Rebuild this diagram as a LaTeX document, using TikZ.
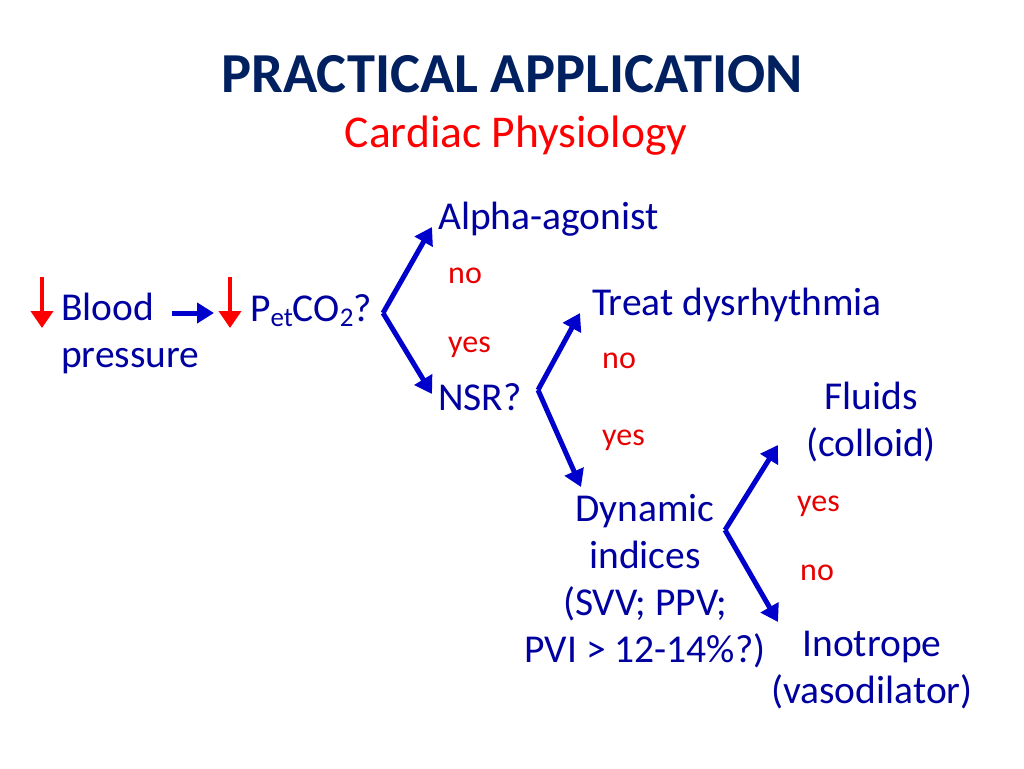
\documentclass[tikz,border=0pt]{standalone}
\usepackage{fontspec}
\setmainfont{Carlito}
\usetikzlibrary{arrows.meta}
\definecolor{navy}{RGB}{0,32,96}
\definecolor{txtblue}{RGB}{0,0,160}
\definecolor{arrblue}{RGB}{0,0,204}
\definecolor{txtred}{RGB}{230,0,0}
\newcommand{\lowsub}[1]{\raisebox{-0.3ex}{\fontsize{27}{27}\selectfont #1}}
\tikzset{
  body/.style={inner sep=0pt, text=txtblue, font=\fontsize{39.5}{47}\selectfont},
  answer/.style={inner sep=0pt, anchor=base west, text=txtred, font=\fontsize{32}{38}\selectfont},
  flow/.style={draw=arrblue, line width=5pt, -{Triangle[length=17pt,width=20pt]}},
  drop/.style={draw=red, line width=4pt, -{Triangle[length=17pt,width=22pt]}}
}
\begin{document}
\begin{tikzpicture}[x=1pt,y=-1pt]
\useasboundingbox (0,0) rectangle (1024,768);
% title
\node (title) at (512,92) [anchor=base, inner sep=0pt, text=navy, font=\fontsize{56.5}{68}\selectfont\bfseries] {PRACTICAL APPLICATION};
\node (sub) at (516,147) [anchor=base, inner sep=0pt, text=red, font=\fontsize{45.5}{54}\selectfont] {Cardiac Physiology};
% first row
\node (bp) at (61,367) [body, anchor=base west, align=left] {Blood\\pressure};
\node (pco2) at (250,321) [body, anchor=base west] {P\lowsub{et}CO\lowsub{2}?};
\coordinate (bptop) at (42,277);
\coordinate (bpend) at (42,328);
\coordinate (pctop) at (230,277);
\coordinate (pcend) at (230,328);
\coordinate (linkstart) at (172,313);
\coordinate (linkend) at (214,313);
\draw[drop] (bptop) -- (bpend);
\draw[drop] (pctop) -- (pcend);
\draw[flow] (linkstart) -- (linkend);
% branches
\node (alpha) at (438,229) [body, anchor=base west] {Alpha-agonist};
\node (nsr) at (438,410) [body, anchor=base west] {NSR?};
\node (treat) at (592,315) [body, anchor=base west] {Treat dysrhythmia};
\node (dyn) at (645,662) [body, anchor=base, align=center] {Dynamic\\indices\\(SVV; PPV;\\PVI > 12-14\%?)};
\node (fluid) at (871,456) [body, anchor=base, align=center] {Fluids\\(colloid)};
\node (ino) at (872,703) [body, anchor=base, align=center] {Inotrope\\(vasodilator)};
% brackets
\coordinate (v1) at (383,313);
\coordinate (v2) at (538,390);
\coordinate (v3) at (725,530);
\coordinate (alphatip) at (432,227);
\coordinate (nsrtip) at (432,394);
\coordinate (treattip) at (580,313);
\coordinate (dyntip) at (581,487);
\coordinate (fluidtip) at (778,445);
\coordinate (inotip) at (778,622);
\draw[flow] (v1) -- (alphatip);
\draw[flow] (v1) -- (nsrtip);
\draw[flow] (v2) -- (treattip);
\draw[flow] (v2) -- (dyntip);
\draw[flow] (v3) -- (fluidtip);
\draw[flow] (v3) -- (inotip);
% answers
\node (no1) at (448,283) [answer] {no};
\node (yes1) at (448,352) [answer] {yes};
\node (no2) at (602,368) [answer] {no};
\node (yes2) at (602,445) [answer] {yes};
\node (yes3) at (797,511) [answer] {yes};
\node (no3) at (800,580) [answer] {no};
\end{tikzpicture}
\end{document}
